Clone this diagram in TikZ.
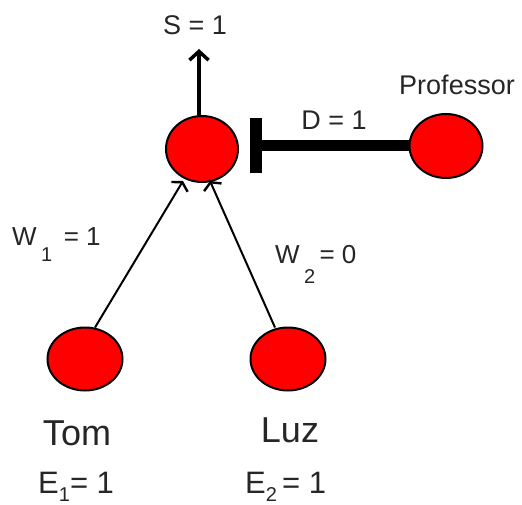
\documentclass[tikz,border=0pt]{standalone}
\usepackage{fontspec}
\setmainfont{Liberation Sans}
\usetikzlibrary{shapes.geometric,arrows.meta}
\newcommand{\lowsub}[2]{\raisebox{#1}{\fontsize{20}{20}\selectfont #2}}
\tikzset{
  neuron/.style={ellipse, draw=black, line width=2pt, fill=red, inner sep=0pt},
  lbl/.style={inner sep=0pt, anchor=base, text=black!85},
  excite/.style={line width=2pt, -{Straight Barb[angle=120:11pt, line width=2.4pt]}},
}
\begin{document}
\begin{tikzpicture}[x=1pt, y=-1pt]
\useasboundingbox (0,0) rectangle (522,505);
\fill[white] (0,0) rectangle (522,505);
% nodes
\node[neuron, minimum width=72pt, minimum height=66pt] (cen) at (202,149) {};
\node[neuron, minimum width=73pt, minimum height=64pt] (prof) at (446,146) {};
\node[neuron, minimum width=75pt, minimum height=63pt] (tom) at (85,359) {};
\node[neuron, minimum width=75pt, minimum height=63pt] (luz) at (288,359) {};
\coordinate (out) at (199,49);
\coordinate (ctop) at ([xshift=-3pt]cen.north);
\coordinate (ts) at ([xshift=10pt,yshift=-1pt]tom.north);
\coordinate (te) at ([xshift=-19pt,yshift=2pt]cen.south);
\coordinate (ls) at ([xshift=-13pt,yshift=-1pt]luz.north);
\coordinate (le) at ([xshift=8pt,yshift=2pt]cen.south);
% connectors
\draw[line width=4.5pt, -{Straight Barb[angle=95:13pt, line width=3.5pt]}] (ctop) -- (out);
\draw[excite] (ts) -- (te);
\draw[excite] (ls) -- (le);
\draw[line width=11pt, -{Bar[width=55pt, line width=12pt]}, shorten >=11pt] (prof.west) -- (cen.east |- prof.west);
% labels
\node[lbl, font=\fontsize{27}{27}\selectfont] (s) at (195,35) {S = 1};
\node[lbl, font=\fontsize{27}{27}\selectfont] (pl) at (457,95) {Professor};
\node[lbl, font=\fontsize{27}{27}\selectfont] (dl) at (334,130) {D = 1};
\node[lbl, anchor=base west, font=\fontsize{26}{26}\selectfont] (w1) at (12,245) {W\,\lowsub{-17pt}{1}\, = 1};
\node[lbl, anchor=base west, font=\fontsize{26}{26}\selectfont] (w2) at (275,263) {W\,\lowsub{-20pt}{2}\,= 0};
\node[lbl, font=\fontsize{36}{36}\selectfont] (tl) at (77,445) {Tom};
\node[lbl, font=\fontsize{36}{36}\selectfont] (ll) at (290,442) {Luz};
\node[lbl, anchor=base west, font=\fontsize{31}{31}\selectfont] (e1) at (38,493) {E\lowsub{-8pt}{1}= 1};
\node[lbl, anchor=base west, font=\fontsize{31}{31}\selectfont] (e2) at (245,493) {E\lowsub{-8pt}{2}\,= 1};
\end{tikzpicture}
\end{document}
